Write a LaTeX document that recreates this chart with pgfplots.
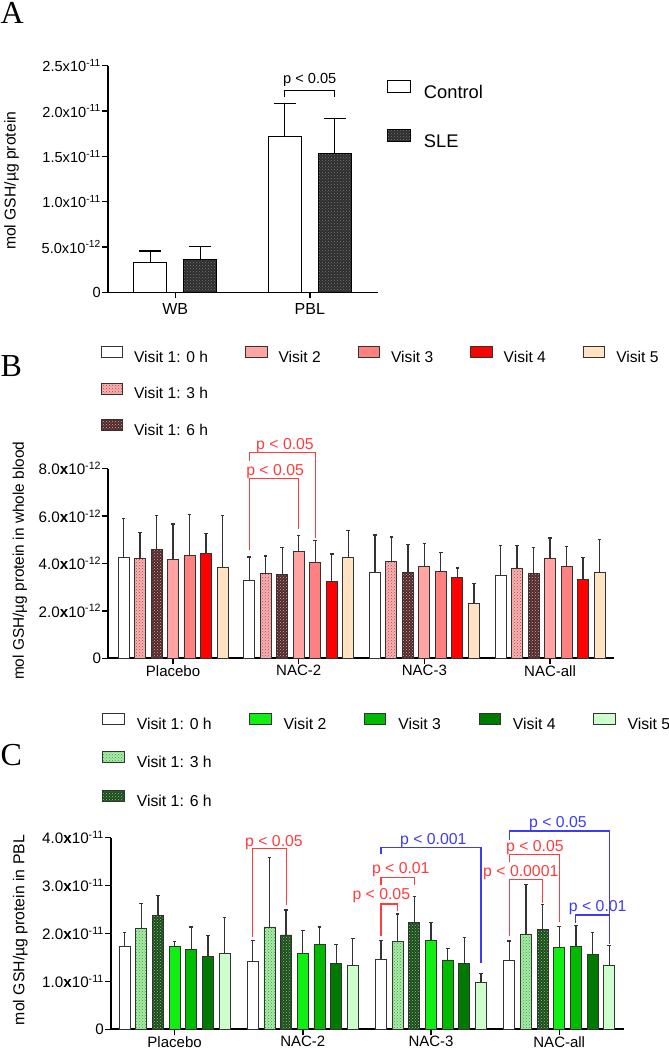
\documentclass[border=0pt]{standalone}
\usepackage{fontspec}
\setmainfont{Liberation Sans}
\newfontfamily\letterfont{Liberation Serif}
\usepackage{pgfplots}
\usepackage{pgfplotstable}
\pgfplotsset{compat=1.18}
\usetikzlibrary{patterns}

\newcommand{\fs}[1]{\fontsize{#1}{#1}\selectfont}

\definecolor{edge}{HTML}{333333}
\definecolor{sigred}{HTML}{FF3C3C}
\definecolor{sigblue}{HTML}{3C3CF5}
% panel B (reds)
\definecolor{rh3}{HTML}{F4B4B4}
\definecolor{rh3dot}{HTML}{C83C3C}
\definecolor{rh6}{HTML}{4E2A2A}
\definecolor{rh6dot}{HTML}{E8A0A0}
\definecolor{rv2}{HTML}{FFA3A3}
\definecolor{rv3}{HTML}{FF8080}
\definecolor{rv4}{HTML}{FF0000}
\definecolor{rv5}{HTML}{FFE2C2}
% panel C (greens)
\definecolor{gh3}{HTML}{A8EBA8}
\definecolor{gh3dot}{HTML}{3CA03C}
\definecolor{gh6}{HTML}{1E4A1E}
\definecolor{gh6dot}{HTML}{7CCF7C}
\definecolor{gv2}{HTML}{11EE11}
\definecolor{gv3}{HTML}{00BB00}
\definecolor{gv4}{HTML}{007A00}
\definecolor{gv5}{HTML}{CCFFCC}
% panel A
\definecolor{sle}{HTML}{2E2E2E}
\definecolor{sledot}{HTML}{767676}

% whole blood, units of 1e-12; e = top of error bar
\pgfplotstableread{
g h0 h0e h3 h3e h6 h6e v2 v2e v3 v3e v4 v4e v5 v5e
0 4.26 5.91 4.22 5.32 4.61 6.02 4.16 5.67 4.32 6.08 4.44 5.26 3.85 6.02
1 3.28 4.28 3.56 4.32 3.52 4.67 4.51 5.19 4.04 4.96 3.23 4.40 4.26 5.40
2 3.61 5.20 4.08 5.12 3.64 4.80 3.88 4.84 3.68 4.47 3.40 3.81 2.32 3.15
3 3.49 4.75 3.81 4.75 3.57 4.67 4.21 5.08 3.88 4.73 3.32 4.25 3.61 5.02
}\wbtab

% PBL, units of 1e-11
\pgfplotstableread{
g h0 h0e h3 h3e h6 h6e v2 v2e v3 v3e v4 v4e v5 v5e
0 1.739 2.02 2.108 2.63 2.386 2.79 1.725 1.83 1.663 2.136 1.530 1.955 1.586 2.337
1 1.426 1.857 2.136 3.59 1.969 2.49 1.586 2.06 1.767 2.136 1.370 1.767 1.329 1.89
2 1.468 1.85 1.83 2.407 2.233 2.77 1.85 2.226 1.447 1.683 1.384 1.913 0.988 1.169
3 1.447 1.843 1.99 3.03 2.087 2.61 1.711 2.15 1.725 2.17 1.565 2.024 1.329 1.746
}\pbltab

% panel A, units of 1e-12
\pgfplotstableread{
g ctl ctle sle slee
0 3.34 4.56 3.67 5.03
1 17.2 20.85 15.3 19.2
}\atab

\pgfplotsset{
  base/.style={
    scale only axis, anchor=south west,
    axis x line*=bottom, axis y line*=left,
    axis line style={line width=1.8pt, black},
    tick style={line width=1.5pt, black},
    tick align=outside, major tick length=6pt,
    enlargelimits=false, clip=false, ymin=0,
    legend cell align=left,
  },
  gbar/.style={ybar, bar width=11pt, bar shift=0pt, draw=edge, line width=0.9pt, forget plot},
  gerr/.style={sharp plot, draw=none, no markers, forget plot,
    error bars/y dir=plus, error bars/y explicit,
    error bars/error bar style={line width=1.3pt, color=edge},
    error bars/error mark options={rotate=90, mark size=1.8pt, line width=1.3pt, color=edge}},
  abar/.style={ybar, bar width=33pt, bar shift=0pt, draw=black, line width=1pt, forget plot},
  aerr/.style={sharp plot, draw=none, no markers, forget plot,
    error bars/y dir=plus, error bars/y explicit,
    error bars/error bar style={line width=1.2pt, color=black},
    error bars/error mark options={rotate=90, mark size=11pt, line width=1.2pt, color=black}},
}

\begin{document}
\begin{tikzpicture}
\path[use as bounding box] (0,0) rectangle (669pt,1050pt);

\node[anchor=base west, inner sep=0, font=\letterfont\fs{32}] at (0.5pt,1026pt) {A};
\node[anchor=base west, inner sep=0, font=\letterfont\fs{32}] at (0.5pt,673.3pt) {B};
\node[anchor=base west, inner sep=0, font=\letterfont\fs{32}] at (0.5pt,284pt) {C};

% ---------- A ----------
\begin{axis}[base,
  at={(108pt,757.7pt)}, width=270pt, height=226.6pt,
  xmin=-0.5, xmax=1.507, ymax=25,
  axis line style={line width=1.5pt},
  xtick={0,1}, xticklabels={WB,PBL},
  ytick={0,5,10,15,20,25},
  yticklabels={0,5.0x10\textsuperscript{-12},1.0x10\textsuperscript{-11},1.5x10\textsuperscript{-11},2.0x10\textsuperscript{-11},2.5x10\textsuperscript{-11}},
  yticklabel style={font=\fs{14.6}, inner sep=1pt},
  xticklabel style={font=\fs{16}, inner sep=1pt, yshift=-4pt},
  ylabel={mol GSH/µg protein},
  ylabel style={at={(axis description cs:-0.357,0.492)}, anchor=center, font=\fs{15.7}},
  legend image code/.code={\draw[#1] (0pt,0pt) rectangle (23pt,11.7pt);},
  legend style={at={(axis description cs:1.0333,0.937)}, anchor=north west,
    draw=none, fill=none, inner sep=0pt, outer sep=0pt, font=\fs{18.3},
    nodes={inner sep=0pt}, row sep=29.8pt,
    /tikz/every odd column/.append style={column sep=13pt}},
]
\addplot[abar, fill=white] table[x expr=\thisrow{g}-0.186, y=ctl] {\atab};
\addplot[aerr] table[x expr=\thisrow{g}-0.186, y=ctl, y error expr=\thisrow{ctle}-\thisrow{ctl}] {\atab};
\addplot[abar, fill=sle, postaction={pattern=crosshatch dots, pattern color=sledot}]
  table[x expr=\thisrow{g}+0.186, y=sle] {\atab};
\addplot[aerr] table[x expr=\thisrow{g}+0.186, y=sle, y error expr=\thisrow{slee}-\thisrow{sle}] {\atab};
\addlegendimage{draw=black, line width=1pt, fill=white}
\addlegendentry{Control}
\addlegendimage{draw=black, line width=1pt, fill=sle, postaction={pattern=crosshatch dots, pattern color=sledot}}
\addlegendentry{SLE}
\draw[black, line width=1pt] (axis cs:0.814,21.5) -- (axis cs:0.814,22.3) -- (axis cs:1.186,22.3) -- (axis cs:1.186,21.5);
\node[anchor=base, inner sep=0, font=\fs{14.6}] at (axis cs:1,23.06) {p < 0.05};
\end{axis}

% ---------- B ----------
\begin{axis}[base,
  at={(108.3pt,391.7pt)}, width=505.2pt, height=189.6pt,
  xmin=-0.515, xmax=3.505, ymax=8,
  xtick={0,1,2,3}, xticklabels={Placebo,NAC-2,NAC-3,NAC-all},
  ytick={0,2,4,6,8},
  yticklabels={0,2.0\textbf{x}10\textsuperscript{-12},4.0\textbf{x}10\textsuperscript{-12},6.0\textbf{x}10\textsuperscript{-12},8.0\textbf{x}10\textsuperscript{-12}},
  yticklabel style={font=\fs{15.2}, inner sep=1pt},
  xticklabel style={font=\fs{15}, inner sep=1pt},
  ylabel={mol GSH/µg protein in whole blood},
  ylabel style={at={(axis description cs:-0.175,0.514)}, anchor=center, font=\fs{15.4}},
  legend columns=5,
  legend image code/.code={\draw[#1] (0pt,0pt) rectangle (21.5pt,11pt);},
  legend style={at={(axis description cs:-0.015,1.6456)}, anchor=north west,
    draw=none, fill=none, inner sep=0pt, outer sep=0pt, font=\fs{15.6},
    nodes={inner sep=0pt}, row sep=18.5pt,
    /tikz/every odd column/.append style={column sep=11pt},
    /tikz/every even column/.append style={column sep=37pt}},
]
\addplot[gbar, fill=white] table[x expr=\thisrow{g}-0.394, y=h0] {\wbtab};
\addplot[gbar, fill=rh3, postaction={pattern=crosshatch dots, pattern color=rh3dot}]
  table[x expr=\thisrow{g}-0.263, y=h3] {\wbtab};
\addplot[gbar, fill=rh6, postaction={pattern=crosshatch dots, pattern color=rh6dot}]
  table[x expr=\thisrow{g}-0.131, y=h6] {\wbtab};
\addplot[gbar, fill=rv2] table[x expr=\thisrow{g}, y=v2] {\wbtab};
\addplot[gbar, fill=rv3] table[x expr=\thisrow{g}+0.131, y=v3] {\wbtab};
\addplot[gbar, fill=rv4] table[x expr=\thisrow{g}+0.263, y=v4] {\wbtab};
\addplot[gbar, fill=rv5] table[x expr=\thisrow{g}+0.394, y=v5] {\wbtab};
\addplot[gerr] table[x expr=\thisrow{g}-0.394, y=h0, y error expr=\thisrow{h0e}-\thisrow{h0}] {\wbtab};
\addplot[gerr] table[x expr=\thisrow{g}-0.263, y=h3, y error expr=\thisrow{h3e}-\thisrow{h3}] {\wbtab};
\addplot[gerr] table[x expr=\thisrow{g}-0.131, y=h6, y error expr=\thisrow{h6e}-\thisrow{h6}] {\wbtab};
\addplot[gerr] table[x expr=\thisrow{g}, y=v2, y error expr=\thisrow{v2e}-\thisrow{v2}] {\wbtab};
\addplot[gerr] table[x expr=\thisrow{g}+0.131, y=v3, y error expr=\thisrow{v3e}-\thisrow{v3}] {\wbtab};
\addplot[gerr] table[x expr=\thisrow{g}+0.263, y=v4, y error expr=\thisrow{v4e}-\thisrow{v4}] {\wbtab};
\addplot[gerr] table[x expr=\thisrow{g}+0.394, y=v5, y error expr=\thisrow{v5e}-\thisrow{v5}] {\wbtab};

\addlegendimage{draw=edge, line width=0.9pt, fill=white}\addlegendentry{Visit 1: 0 h}
\addlegendimage{draw=edge, line width=0.9pt, fill=rv2}\addlegendentry{Visit 2}
\addlegendimage{draw=edge, line width=0.9pt, fill=rv3}\addlegendentry{Visit 3}
\addlegendimage{draw=edge, line width=0.9pt, fill=rv4}\addlegendentry{Visit 4}
\addlegendimage{draw=edge, line width=0.9pt, fill=rv5}\addlegendentry{Visit 5}
\addlegendimage{draw=edge, line width=0.9pt, fill=rh3, postaction={pattern=crosshatch dots, pattern color=rh3dot}}\addlegendentry{Visit 1: 3 h}
\addlegendimage{empty legend}\addlegendentry{}
\addlegendimage{empty legend}\addlegendentry{}
\addlegendimage{empty legend}\addlegendentry{}
\addlegendimage{empty legend}\addlegendentry{}
\addlegendimage{draw=edge, line width=0.9pt, fill=rh6, postaction={pattern=crosshatch dots, pattern color=rh6dot}}\addlegendentry{Visit 1: 6 h}

\draw[sigred, line width=1.1pt] (axis cs:0.606,4.57) -- (axis cs:0.606,7.57) -- (axis cs:1,7.57) -- (axis cs:1,5.45);
\node[sigred, anchor=base, inner sep=0, font=\fs{15.8}] at (axis cs:0.812,7.72) {p < 0.05};
\draw[sigred, line width=1.1pt] (axis cs:0.606,8.34) -- (axis cs:0.606,8.68) -- (axis cs:1.131,8.68) -- (axis cs:1.131,5.08);
\node[sigred, anchor=base, inner sep=0, font=\fs{15.8}] at (axis cs:0.891,8.79) {p < 0.05};
\end{axis}

% ---------- C ----------
\begin{axis}[base,
  at={(111pt,20.7pt)}, width=513pt, height=191.6pt,
  xmin=-0.496, xmax=3.505, ymax=4,
  xtick={0,1,2,3}, xticklabels={Placebo,NAC-2,NAC-3,NAC-all},
  ytick={0,1,2,3,4},
  yticklabels={0,1.0\textbf{x}10\textsuperscript{-11},2.0\textbf{x}10\textsuperscript{-11},3.0\textbf{x}10\textsuperscript{-11},4.0\textbf{x}10\textsuperscript{-11}},
  yticklabel style={font=\fs{15.2}, inner sep=1pt},
  xticklabel style={font=\fs{15}, inner sep=1pt},
  ylabel={mol GSH/µg protein in PBL},
  ylabel style={at={(axis description cs:-0.177,0.518)}, anchor=center, font=\fs{15.8}},
  legend columns=5,
  legend image code/.code={\draw[#1] (0pt,0pt) rectangle (21.5pt,11pt);},
  legend style={at={(axis description cs:-0.0168,1.653)}, anchor=north west,
    draw=none, fill=none, inner sep=0pt, outer sep=0pt, font=\fs{15.8},
    nodes={inner sep=0pt}, row sep=20.6pt,
    /tikz/every odd column/.append style={column sep=12pt},
    /tikz/every even column/.append style={column sep=37.5pt}},
]
\addplot[gbar, fill=white] table[x expr=\thisrow{g}-0.39, y=h0] {\pbltab};
\addplot[gbar, fill=gh3, postaction={pattern=crosshatch dots, pattern color=gh3dot}]
  table[x expr=\thisrow{g}-0.26, y=h3] {\pbltab};
\addplot[gbar, fill=gh6, postaction={pattern=crosshatch dots, pattern color=gh6dot}]
  table[x expr=\thisrow{g}-0.13, y=h6] {\pbltab};
\addplot[gbar, fill=gv2] table[x expr=\thisrow{g}, y=v2] {\pbltab};
\addplot[gbar, fill=gv3] table[x expr=\thisrow{g}+0.13, y=v3] {\pbltab};
\addplot[gbar, fill=gv4] table[x expr=\thisrow{g}+0.26, y=v4] {\pbltab};
\addplot[gbar, fill=gv5] table[x expr=\thisrow{g}+0.39, y=v5] {\pbltab};
\addplot[gerr] table[x expr=\thisrow{g}-0.39, y=h0, y error expr=\thisrow{h0e}-\thisrow{h0}] {\pbltab};
\addplot[gerr] table[x expr=\thisrow{g}-0.26, y=h3, y error expr=\thisrow{h3e}-\thisrow{h3}] {\pbltab};
\addplot[gerr] table[x expr=\thisrow{g}-0.13, y=h6, y error expr=\thisrow{h6e}-\thisrow{h6}] {\pbltab};
\addplot[gerr] table[x expr=\thisrow{g}, y=v2, y error expr=\thisrow{v2e}-\thisrow{v2}] {\pbltab};
\addplot[gerr] table[x expr=\thisrow{g}+0.13, y=v3, y error expr=\thisrow{v3e}-\thisrow{v3}] {\pbltab};
\addplot[gerr] table[x expr=\thisrow{g}+0.26, y=v4, y error expr=\thisrow{v4e}-\thisrow{v4}] {\pbltab};
\addplot[gerr] table[x expr=\thisrow{g}+0.39, y=v5, y error expr=\thisrow{v5e}-\thisrow{v5}] {\pbltab};

\addlegendimage{draw=edge, line width=0.9pt, fill=white}\addlegendentry{Visit 1: 0 h}
\addlegendimage{draw=edge, line width=0.9pt, fill=gv2}\addlegendentry{Visit 2}
\addlegendimage{draw=edge, line width=0.9pt, fill=gv3}\addlegendentry{Visit 3}
\addlegendimage{draw=edge, line width=0.9pt, fill=gv4}\addlegendentry{Visit 4}
\addlegendimage{draw=edge, line width=0.9pt, fill=gv5}\addlegendentry{Visit 5}
\addlegendimage{draw=edge, line width=0.9pt, fill=gh3, postaction={pattern=crosshatch dots, pattern color=gh3dot}}\addlegendentry{Visit 1: 3 h}
\addlegendimage{empty legend}\addlegendentry{}
\addlegendimage{empty legend}\addlegendentry{}
\addlegendimage{empty legend}\addlegendentry{}
\addlegendimage{empty legend}\addlegendentry{}
\addlegendimage{draw=edge, line width=0.9pt, fill=gh6, postaction={pattern=crosshatch dots, pattern color=gh6dot}}\addlegendentry{Visit 1: 6 h}

% NAC-2
\draw[sigred, line width=1.1pt] (axis cs:0.61,1.93) -- (axis cs:0.61,3.78) -- (axis cs:0.87,3.78) -- (axis cs:0.87,2.59);
\node[sigred, anchor=base, inner sep=0, font=\fs{15.8}] at (axis cs:0.775,3.82) {p < 0.05};
% NAC-3
\draw[sigred, line width=1.1pt] (axis cs:1.61,1.955) -- (axis cs:1.61,2.616) -- (axis cs:1.74,2.616) -- (axis cs:1.74,2.477);
\node[sigred, anchor=base, inner sep=0, font=\fs{15.8}] at (axis cs:1.612,2.71) {p < 0.05};
\draw[sigred, line width=1.1pt] (axis cs:1.61,3.01) -- (axis cs:1.61,3.17) -- (axis cs:1.87,3.17) -- (axis cs:1.87,3.01);
\node[sigred, anchor=base, inner sep=0, font=\fs{15.8}] at (axis cs:1.764,3.26) {p < 0.01};
\draw[sigblue, line width=1.1pt] (axis cs:1.61,3.65) -- (axis cs:1.61,3.80) -- (axis cs:2.39,3.80) -- (axis cs:2.39,1.377);
\node[sigblue, anchor=base, inner sep=0, font=\fs{15.8}] at (axis cs:2.018,3.86) {p < 0.001};
% NAC-all
\draw[sigred, line width=1.1pt] (axis cs:2.61,1.94) -- (axis cs:2.61,3.13) -- (axis cs:2.87,3.13) -- (axis cs:2.87,2.63);
\node[sigred, anchor=base, inner sep=0, font=\fs{15.8}] at (axis cs:2.70,3.20) {p < 0.0001};
\draw[sigred, line width=1.1pt] (axis cs:2.61,3.50) -- (axis cs:2.61,3.65) -- (axis cs:3.0,3.65) -- (axis cs:3.0,2.23);
\node[sigred, anchor=base, inner sep=0, font=\fs{15.8}] at (axis cs:2.81,3.72) {p < 0.05};
\draw[sigblue, line width=1.1pt] (axis cs:2.61,3.95) -- (axis cs:2.61,4.14) -- (axis cs:3.39,4.14) -- (axis cs:3.39,1.78);
\node[sigblue, anchor=base, inner sep=0, font=\fs{15.8}] at (axis cs:2.99,4.21) {p < 0.05};
\draw[sigblue, line width=1.1pt] (axis cs:3.13,2.21) -- (axis cs:3.13,2.386) -- (axis cs:3.39,2.386);
\node[sigblue, anchor=base, inner sep=0, font=\fs{15.8}] at (axis cs:3.30,2.455) {p < 0.01};
\end{axis}
\end{tikzpicture}
\end{document}
